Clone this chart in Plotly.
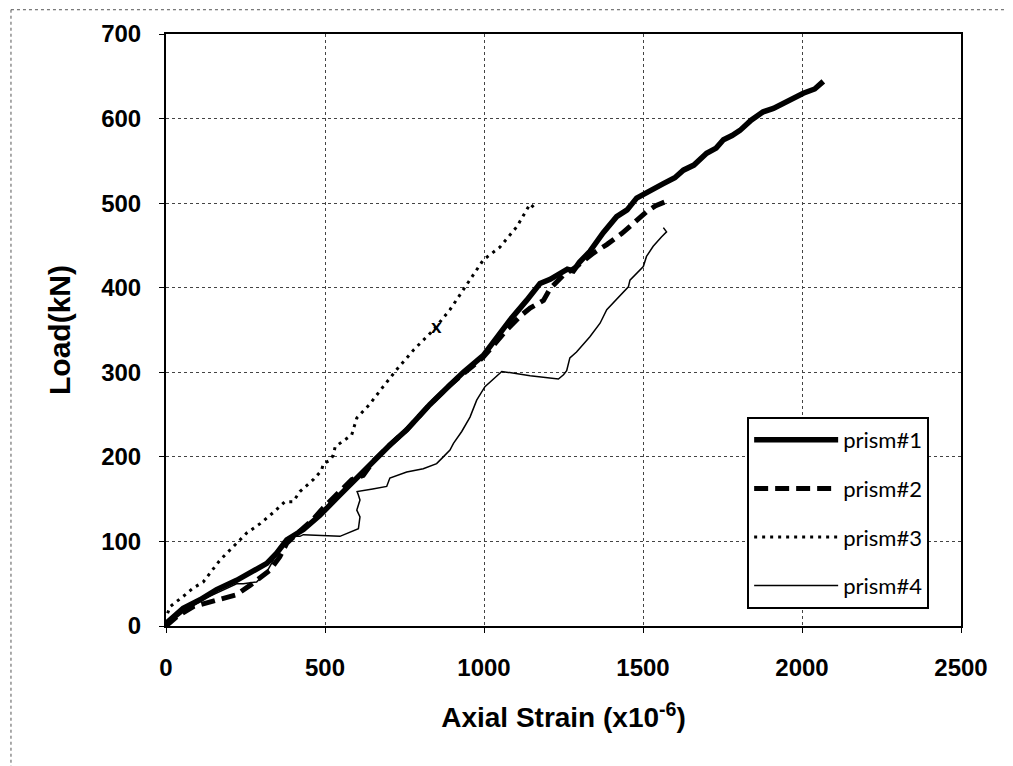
import plotly.graph_objects as go

# ---- data ----
p1_x = [0, 54, 107, 159, 222, 275, 317, 348, 380, 432, 484, 547, 600, 652, 704, 757, 830, 893, 935,
        998, 1040, 1082, 1134, 1176, 1208, 1239, 1262, 1281, 1300, 1333, 1375, 1417, 1450, 1480, 1520,
        1564, 1600, 1627, 1660, 1700, 1730, 1753, 1780, 1805, 1840, 1878, 1910, 1941, 1970, 2004, 2040, 2067]
p1_y = [3, 21, 31, 43, 54, 66, 74, 86, 102, 114, 131, 155, 175, 195, 214, 232, 262, 285, 300,
        320, 342, 362, 385, 405, 410, 417, 422, 420, 430, 443, 465, 484, 492, 506, 515,
        523, 530, 539, 545, 559, 565, 575, 580, 586, 598, 608, 612, 618, 622, 630, 635, 644]

p2_x = [0, 34, 86, 149, 222, 264, 327, 358, 380, 420, 460, 495, 547, 584, 620, 652, 704, 757, 830, 893,
        998, 1071, 1113, 1145, 1187, 1208, 1250, 1291, 1344, 1386, 1433, 1469, 1512, 1540, 1572]
p2_y = [0, 11, 23, 29, 37, 48, 66, 82, 98, 112, 125, 140, 159, 173, 178, 195, 214, 232, 262, 285,
        318, 350, 366, 376, 385, 399, 415, 425, 441, 451, 464, 476, 490, 497, 502]

p3_x = [5, 13, 54, 86, 117, 138, 170, 191, 222, 254, 296, 340, 374, 400, 421, 463, 489, 495, 516, 526,
        532, 563, 584, 600, 640, 683, 725, 780, 841, 893, 935, 998, 1050, 1103, 1145, 1162]
p3_y = [15, 23, 35, 45, 52, 62, 78, 86, 98, 110, 121, 135, 147, 147, 159, 173, 184, 192, 196, 202,
        212, 220, 226, 246, 262, 283, 303, 327, 350, 374, 397, 433, 448, 472, 499, 493]

p4_x = [0, 60, 120, 180, 222, 243, 285, 300, 317, 332, 350, 369, 400, 421, 432, 547, 605, 610, 600, 610,
        605, 601, 650, 694, 704, 757, 809, 851, 872, 893, 904, 930, 956, 977, 1003, 1040, 1056, 1145,
        1234, 1250, 1260, 1270, 1291, 1333, 1365, 1386, 1428, 1454, 1459, 1480, 1501, 1511, 1532,
        1558, 1574, 1564]
p4_y = [0, 18, 32, 43, 50, 50, 52, 58, 64, 74, 86, 100, 106, 106, 108, 106, 115, 129, 137, 149,
        155, 159, 162, 165, 175, 182, 186, 192, 200, 208, 216, 230, 247, 267, 283, 295, 301, 296,
        292, 297, 302, 317, 324, 342, 358, 374, 391, 401, 409, 417, 425, 437, 449,
        460, 466, 471]

mark_x = [850]
mark_y = [352]
mark_text = ["<b>x</b>"]

x_ticks = [0, 500, 1000, 1500, 2000, 2500]
y_ticks = [0, 100, 200, 300, 400, 500, 600, 700]

fig = go.Figure()
fig.add_trace(go.Scatter(x=p1_x, y=p1_y, mode="lines", name="prism#1", legendgroup="a",
                         line=dict(color="black", width=5.5)))
fig.add_trace(go.Scatter(x=p2_x, y=p2_y, mode="lines", name="prism#2", legendgroup="b",
                         line=dict(color="black", width=5, dash="14px,7px")))
fig.add_trace(go.Scatter(x=p3_x, y=p3_y, mode="lines", name="prism#3", legendgroup="c",
                         line=dict(color="black", width=3, dash="3px,5px")))
fig.add_trace(go.Scatter(x=p4_x, y=p4_y, mode="lines", name="prism#4", legendgroup="d",
                         line=dict(color="black", width=1.5)))
fig.add_trace(go.Scatter(x=mark_x, y=mark_y, mode="text", text=mark_text, showlegend=False,
                         textfont=dict(family="Liberation Sans", size=19, color="black")))

axis_font = dict(family="Liberation Sans", size=24, color="black")
fig.update_layout(
    width=1005, height=758,
    margin=dict(l=158, r=52, t=26, b=140),
    paper_bgcolor="white", plot_bgcolor="white",
    font=dict(family="Liberation Sans", color="black"),
    xaxis=dict(range=[0, 2500], tickvals=x_ticks, ticktext=[f"<b>{v}</b>" for v in x_ticks],
               tickfont=axis_font, showgrid=True, gridcolor="#444", griddash="dot", gridwidth=1,
               showline=True, linecolor="black", linewidth=2, mirror=True,
               ticks="outside", ticklen=5, tickcolor="black", ticklabelstandoff=14,
               zeroline=False,
               title=dict(text="<b>Axial Strain (x10<sup>-6</sup>)</b>",
                          font=dict(family="Liberation Sans", size=28, color="black"), standoff=28)),
    yaxis=dict(range=[0, 700], tickvals=y_ticks, ticktext=[f"<b>{v}</b>" for v in y_ticks],
               tickfont=axis_font, showgrid=True, gridcolor="#444", griddash="dot", gridwidth=1,
               showline=True, linecolor="black", linewidth=2, mirror=True,
               ticks="outside", ticklen=5, tickcolor="black", ticklabelstandoff=13,
               zeroline=False,
               title=dict(text="<b>Load(kN)</b>",
                          font=dict(family="Liberation Sans", size=30, color="black"), standoff=22)),
    legend=dict(x=0.731, y=0.353, xanchor="left", yanchor="top",
                bgcolor="white", bordercolor="black", borderwidth=2,
                font=dict(family="Lato", size=22, color="black"),
                tracegroupgap=17, itemwidth=84),
    shapes=[
        dict(type="line", xref="paper", yref="paper", x0=-0.195, x1=-0.195, y0=1.041, y1=-0.25,
             line=dict(color="#555", width=1, dash="dot")),
        dict(type="line", xref="paper", yref="paper", x0=-0.195, x1=1.07, y0=1.041, y1=1.041,
             line=dict(color="#555", width=1, dash="dot")),
    ],
)

fig.write_html("out.html")
